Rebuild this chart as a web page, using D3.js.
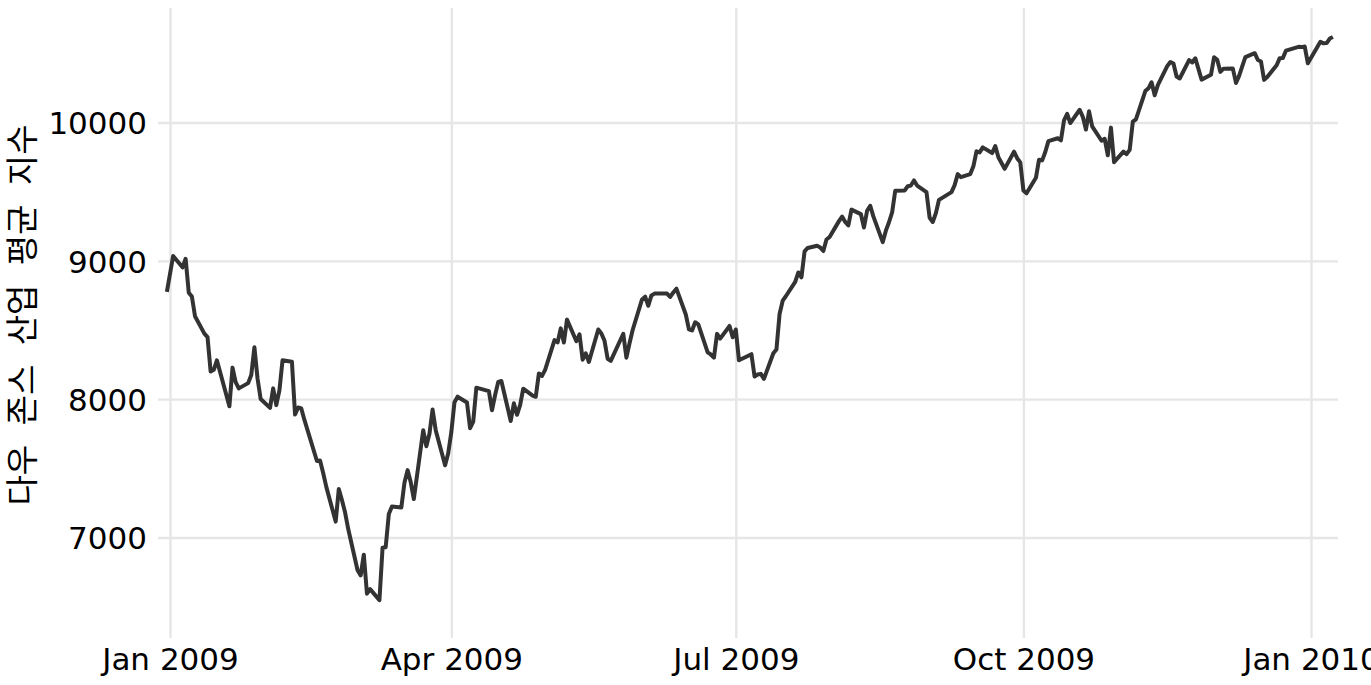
<!DOCTYPE html>
<html><head><meta charset="utf-8">
<script src="https://cdn.jsdelivr.net/npm/d3@7"></script>
<style>body{margin:0;background:#fff} svg{display:block}</style>
</head><body><svg id="c" width="1371" height="685"></svg>
<script>
const dates = [
"2008-12-31",
"2009-01-02","2009-01-05","2009-01-06","2009-01-07","2009-01-08","2009-01-09","2009-01-12","2009-01-13","2009-01-14","2009-01-15","2009-01-16","2009-01-20","2009-01-21","2009-01-22","2009-01-23","2009-01-26","2009-01-27","2009-01-28","2009-01-29","2009-01-30",
"2009-02-02","2009-02-03","2009-02-04","2009-02-05","2009-02-06","2009-02-09","2009-02-10","2009-02-11","2009-02-12","2009-02-13","2009-02-17","2009-02-18","2009-02-19","2009-02-20","2009-02-23","2009-02-24","2009-02-25","2009-02-26","2009-02-27",
"2009-03-02","2009-03-03","2009-03-04","2009-03-05","2009-03-06","2009-03-09","2009-03-10","2009-03-11","2009-03-12","2009-03-13","2009-03-16","2009-03-17","2009-03-18","2009-03-19","2009-03-20","2009-03-23","2009-03-24","2009-03-25","2009-03-26","2009-03-27","2009-03-30","2009-03-31",
"2009-04-01","2009-04-02","2009-04-03","2009-04-06","2009-04-07","2009-04-08","2009-04-09","2009-04-13","2009-04-14","2009-04-15","2009-04-16","2009-04-17","2009-04-20","2009-04-21","2009-04-22","2009-04-23","2009-04-24","2009-04-27","2009-04-28","2009-04-29","2009-04-30",
"2009-05-01","2009-05-04","2009-05-05","2009-05-06","2009-05-07","2009-05-08","2009-05-11","2009-05-12","2009-05-13","2009-05-14","2009-05-15","2009-05-18","2009-05-19","2009-05-20","2009-05-21","2009-05-22","2009-05-26","2009-05-27","2009-05-28","2009-05-29",
"2009-06-01","2009-06-02","2009-06-03","2009-06-04","2009-06-05","2009-06-08","2009-06-09","2009-06-10","2009-06-11","2009-06-12","2009-06-15","2009-06-16","2009-06-17","2009-06-18","2009-06-19","2009-06-22","2009-06-23","2009-06-24","2009-06-25","2009-06-26","2009-06-29","2009-06-30",
"2009-07-01","2009-07-02","2009-07-06","2009-07-07","2009-07-08","2009-07-09","2009-07-10","2009-07-13","2009-07-14","2009-07-15","2009-07-16","2009-07-17","2009-07-20","2009-07-21","2009-07-22","2009-07-23","2009-07-24","2009-07-27","2009-07-28","2009-07-29","2009-07-30","2009-07-31",
"2009-08-03","2009-08-04","2009-08-05","2009-08-06","2009-08-07","2009-08-10","2009-08-11","2009-08-12","2009-08-13","2009-08-14","2009-08-17","2009-08-18","2009-08-19","2009-08-20","2009-08-21","2009-08-24","2009-08-25","2009-08-26","2009-08-27","2009-08-28","2009-08-31",
"2009-09-01","2009-09-02","2009-09-03","2009-09-04","2009-09-08","2009-09-09","2009-09-10","2009-09-11","2009-09-14","2009-09-15","2009-09-16","2009-09-17","2009-09-18","2009-09-21","2009-09-22","2009-09-23","2009-09-24","2009-09-25","2009-09-28","2009-09-29","2009-09-30",
"2009-10-01","2009-10-02","2009-10-05","2009-10-06","2009-10-07","2009-10-08","2009-10-09","2009-10-12","2009-10-13","2009-10-14","2009-10-15","2009-10-16","2009-10-19","2009-10-20","2009-10-21","2009-10-22","2009-10-23","2009-10-26","2009-10-27","2009-10-28","2009-10-29","2009-10-30",
"2009-11-02","2009-11-03","2009-11-04","2009-11-05","2009-11-06","2009-11-09","2009-11-10","2009-11-11","2009-11-12","2009-11-13","2009-11-16","2009-11-17","2009-11-18","2009-11-19","2009-11-20","2009-11-23","2009-11-24","2009-11-25","2009-11-27","2009-11-30",
"2009-12-01","2009-12-02","2009-12-03","2009-12-04","2009-12-07","2009-12-08","2009-12-09","2009-12-10","2009-12-11","2009-12-14","2009-12-15","2009-12-16","2009-12-17","2009-12-18","2009-12-21","2009-12-22","2009-12-23","2009-12-24","2009-12-28","2009-12-29","2009-12-30","2009-12-31",
"2010-01-04","2010-01-05","2010-01-06","2010-01-07","2010-01-08"
];
const closes = [
8776,
9035,8953,9015,8770,8742,8599,8474,8449,8200,8212,8281,7949,8228,8123,8078,8116,8175,8375,8149,8001,
7937,8078,7957,8063,8281,8271,7889,7940,7933,7850,7553,7556,7466,7366,7115,7351,7271,7182,7063,
6763,6726,6876,6594,6627,6547,6926,6930,7170,7224,7217,7396,7487,7401,7278,7776,7660,7750,7925,7776,7522,7609,
7762,7978,8018,7976,7790,7837,8083,8058,7920,8030,8125,8131,7842,7970,7887,7957,8076,8025,8017,8186,8168,
8212,8427,8411,8512,8410,8575,8419,8469,8285,8331,8269,8504,8475,8422,8292,8277,8473,8300,8404,8500,
8721,8741,8675,8750,8763,8764,8763,8739,8771,8799,8612,8505,8497,8556,8540,8339,8323,8300,8472,8438,8529,8447,
8504,8281,8325,8164,8178,8183,8147,8332,8359,8616,8712,8744,8848,8916,8881,9069,9093,9109,9097,9071,9154,9172,
9287,9320,9281,9256,9370,9338,9241,9362,9398,9321,9135,9218,9279,9350,9506,9509,9539,9544,9581,9544,9496,
9311,9281,9345,9441,9497,9547,9627,9605,9627,9683,9792,9784,9820,9779,9830,9749,9707,9665,9789,9742,9712,
9509,9488,9600,9731,9726,9787,9865,9886,9871,10016,10063,9996,10092,10041,9949,10081,9972,9868,9882,9763,9963,9713,
9789,9772,9802,10006,10023,10227,10247,10291,10197,10270,10407,10437,10426,10332,10318,10451,10434,10464,10310,10345,
10472,10453,10366,10389,10390,10286,10337,10406,10472,10501,10452,10441,10308,10329,10414,10465,10466,10520,10547,10545,10549,10428,
10584,10572,10574,10607,10618
];
const xTickDates = ["2009-01-01","2009-04-01","2009-07-01","2009-10-01","2010-01-01"];
const xTickLabels = ["Jan 2009","Apr 2009","Jul 2009","Oct 2009","Jan 2010"];
const yTicks = [7000, 8000, 9000, 10000];
const yTitle = "다우 존스 산업 평균 지수";

const parse = d3.utcParse("%Y-%m-%d");
const data = dates.map((d, i) => ({date: parse(d), value: closes[i]}));
const panel = {left: 158, right: 1338, top: 8, bottom: 638};

const x = d3.scaleUtc().domain([parse("2009-01-01"), parse("2010-01-01")]).range([170, 1311]);
const y = d3.scaleLinear().domain([7000, 10000]).range([537.5, 122.5]);

const svg = d3.select("#c");
svg.append("rect").attr("width", 1371).attr("height", 685).attr("fill", "#fff");

const font = "'DejaVu Sans', sans-serif";

// y axis with gridlines
const yAxis = d3.axisLeft(y).tickValues(yTicks).tickFormat(d3.format("d"))
  .tickSize(-(panel.right - panel.left)).tickPadding(11);
const gy = svg.append("g").attr("transform", `translate(${panel.left},0)`).call(yAxis);
gy.select(".domain").remove();
gy.selectAll(".tick line").attr("stroke", "#E6E6E6").attr("stroke-width", 2.4);
gy.selectAll(".tick text").attr("font-family", font).attr("font-size", 31).attr("fill", "#000").attr("dy", "0.36em");

// x axis with gridlines
const xAxis = d3.axisBottom(x).tickValues(xTickDates.map(parse))
  .tickFormat((d, i) => xTickLabels[i])
  .tickSize(-(panel.bottom - panel.top)).tickPadding(10);
const gx = svg.append("g").attr("transform", `translate(0,${panel.bottom})`).call(xAxis);
gx.select(".domain").remove();
gx.selectAll(".tick line").attr("stroke", "#E6E6E6").attr("stroke-width", 2.4);
gx.selectAll(".tick text").attr("font-family", font).attr("font-size", 31).attr("fill", "#000");

// line
const line = d3.line().x(d => x(d.date)).y(d => y(d.value));
svg.append("path").datum(data).attr("d", line)
  .attr("fill", "none").attr("stroke", "#333333").attr("stroke-width", 4)
  .attr("stroke-linejoin", "round").attr("stroke-linecap", "butt");

// y title
svg.append("text").attr("transform", "translate(20,315) rotate(-90)")
  .attr("text-anchor", "middle").attr("dominant-baseline", "central")
  .attr("font-family", "'Noto Sans CJK KR', sans-serif").attr("font-size", 33)
  .attr("word-spacing", 12).attr("fill", "#000").text(yTitle);
</script></body></html>
